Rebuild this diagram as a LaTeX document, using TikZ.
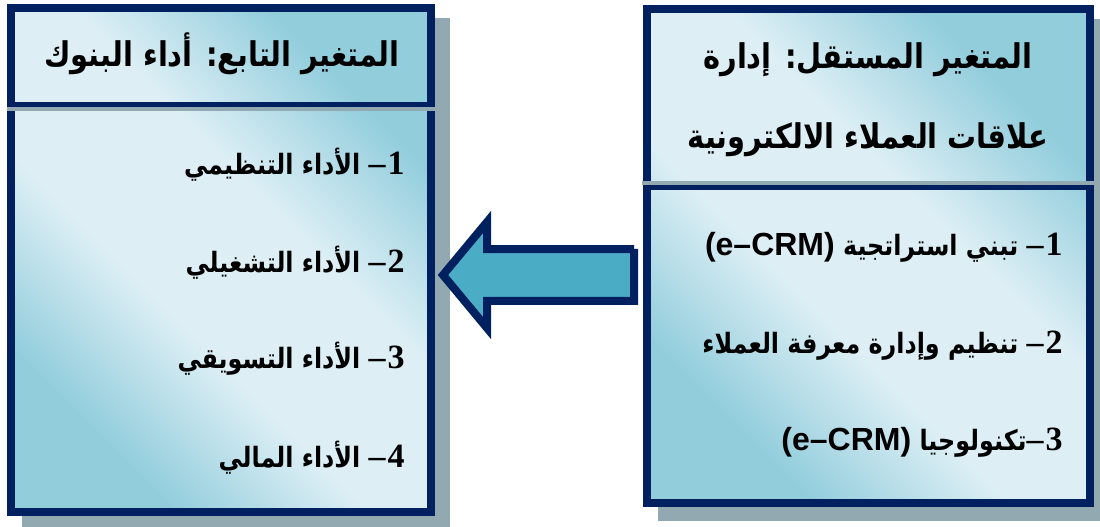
\documentclass[tikz,border=0pt]{standalone}
\usepackage{fontspec}
\usepackage{tikz}
\usetikzlibrary{shadows, calc}
\TeXXeTstate=1
\newfontfamily\arabicfont[Script=Arabic, FakeStretch=0.85]{DejaVu Sans}
\newfontfamily\numfont{Liberation Serif}
\newfontfamily\latinfont{Liberation Sans}
\definecolor{mynavy}{RGB}{0,32,96}
\definecolor{aqualight}{RGB}{221,239,245}
\definecolor{aquadark}{RGB}{146,205,220}
\definecolor{arrowblue}{RGB}{75,172,198}
\definecolor{shadowgray}{RGB}{147,169,178}
\pgfdeclarehorizontalshading{aquagrad}{100bp}{color(0bp)=(aquadark); color(27bp)=(aquadark); color(42bp)=(aqualight); color(58bp)=(aqualight); color(73bp)=(aquadark); color(100bp)=(aquadark)}
\newcommand{\itemno}[1]{{\numfont\bfseries\fontsize{17}{20}\selectfont #1\kern1pt –}}
\newcommand{\ecrm}{\beginL{\latinfont\bfseries\fontsize{16}{20}\selectfont(e–CRM)}\endL}
\tikzset{
  varbox/.style={rectangle, draw=mynavy, line width=4pt, shade, shading=aquagrad,
    shading angle=45,
    drop shadow={shadow xshift=7.5pt, shadow yshift=-7pt, fill=shadowgray,
      draw=shadowgray, line width=4pt, opacity=1}},
  divline/.style={draw=mynavy, line width=2.8pt},
  divshadow/.style={draw=shadowgray, line width=2pt},
  title/.style={font=\arabicfont\bfseries\fontsize{17}{20}\selectfont, inner sep=0pt},
  item/.style={font=\arabicfont\bfseries\fontsize{14}{20}\selectfont, inner sep=0pt,
    anchor=base east},
  bigarrow/.style={draw=mynavy, line width=4pt, fill=arrowblue, line join=miter,
    drop shadow={shadow xshift=1.5pt, shadow yshift=-1.5pt, fill=shadowgray,
      opacity=1}}
}
\begin{document}
\begin{tikzpicture}[x=0.5pt, y=-0.5pt]
  \useasboundingbox (0,0) rectangle (1100,526);

  % dependent variable (left)
  \node[varbox, minimum width=210pt, minimum height=252pt] (depvar) at (221,260) {};
  \draw[divshadow] ($(depvar.north west)+(0,105)$) -- ($(depvar.north east)+(0,105)$);
  \draw[divline] ($(depvar.north west)+(0,100.5)$) -- ($(depvar.north east)+(0,100.5)$);
  \node[title, anchor=base] (deptitle) at (222,66) {\beginR المتغير التابع: أداء البنوك\endR};
  \node[item] (dep1) at (405,174) {\beginR\itemno{1}\ الأداء التنظيمي\endR};
  \node[item] (dep2) at (405,272) {\beginR\itemno{2}\ الأداء التشغيلي\endR};
  \node[item] (dep3) at (405,368) {\beginR\itemno{3}\ الأداء التسويقي\endR};
  \node[item] (dep4) at (405,467) {\beginR\itemno{4}\ الأداء المالي\endR};

  % independent variable (right)
  \node[varbox, minimum width=221.25pt, minimum height=246.75pt] (indvar) at (868.25,255.75) {};
  \draw[divshadow] ($(indvar.north west)+(-1,177.5)$) -- ($(indvar.north east)+(0,177.5)$);
  \draw[divline] ($(indvar.north west)+(0,182.5)$) -- ($(indvar.north east)+(0,182.5)$);
  \node[title, anchor=base] (indtitleA) at (868,68) {\beginR المتغير المستقل: إدارة\endR};
  \node[title, anchor=base] (indtitleB) at (868,148) {\beginR علاقات العملاء الالكترونية\endR};
  \node[item] (ind1) at (1063,255) {\beginR\itemno{1}\ تبني استراتجية \ecrm\endR};
  \node[item] (ind2) at (1063,353) {\beginR\itemno{2}\ تنظيم وإدارة معرفة العملاء\endR};
  \node[item] (ind3) at (1063,450) {\beginR\itemno{3}تكنولوجيا \ecrm\endR};

  % arrow from independent to dependent
  \coordinate (tip) at ($(depvar.east)+(8,15)$);
  \coordinate (tail) at ($(indvar.west)+(-9,19)$);
  \draw[bigarrow] (tip) -- ++(44,-53) -- ++(0,27) -| ($(tail)+(0,-26)$)
    -- ($(tail)+(0,26)$) -| ($(tip)+(44,26)$) -- ++(0,27) -- cycle;
\end{tikzpicture}
\end{document}
